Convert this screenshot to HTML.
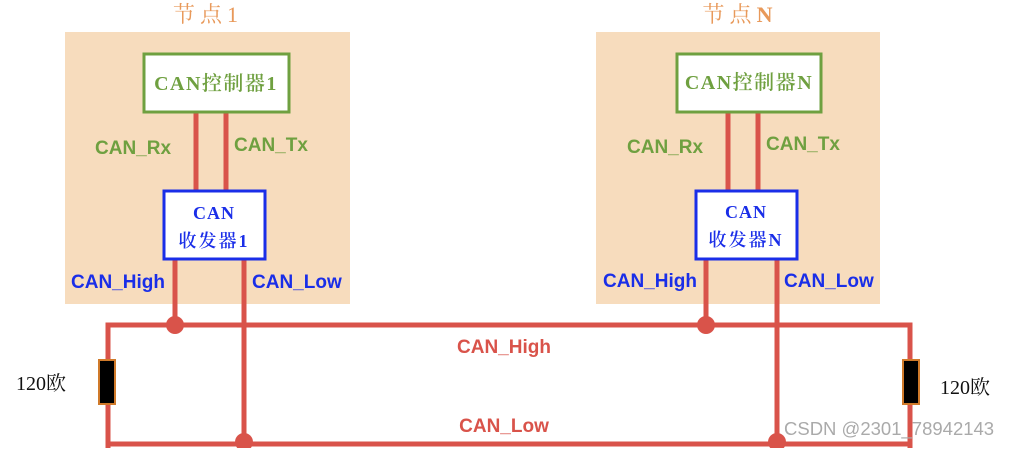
<!DOCTYPE html>
<html><head><meta charset="utf-8"><style>
body{margin:0;background:#fff;width:1012px;height:448px;overflow:hidden}
svg text{font-family:"Liberation Serif","Noto Serif CJK SC",serif}
svg .b text{font-family:"Liberation Sans",sans-serif;font-weight:bold}
svg text.w{font-family:"Liberation Sans",sans-serif}
</style></head><body>
<svg width="1012" height="448" xmlns="http://www.w3.org/2000/svg">
<rect x="65" y="32" width="285" height="272" fill="#f7dcbd"/>
<rect x="596" y="32" width="284" height="272" fill="#f7dcbd"/>
<text x="208" y="22" font-size="22" fill="#e8995a" text-anchor="middle" letter-spacing="5">节点1</text>
<text x="740" y="22" font-size="22" fill="#e8995a" text-anchor="middle" letter-spacing="5">节点<tspan font-weight="bold">N</tspan></text>
<g stroke="#d9534a" stroke-width="5" fill="none">
<line x1="196" y1="113" x2="196" y2="191"/><line x1="226" y1="113" x2="226" y2="191"/>
<line x1="728" y1="113" x2="728" y2="191"/><line x1="758" y1="113" x2="758" y2="191"/>
<line x1="175" y1="259" x2="175" y2="325"/><line x1="244" y1="259" x2="244" y2="444"/>
<line x1="706" y1="259" x2="706" y2="325"/><line x1="777" y1="259" x2="777" y2="444"/>
<polyline points="108,448 108,325 910,325 910,448"/>
<line x1="108" y1="444" x2="910" y2="444"/>
</g>
<g fill="#d9534a"><circle cx="175" cy="325" r="9"/><circle cx="706" cy="325" r="9"/><circle cx="244" cy="442" r="9"/><circle cx="777" cy="442" r="9"/></g>
<rect x="99" y="360" width="16" height="44" fill="#000" stroke="#d07a2a" stroke-width="2"/>
<rect x="903" y="360" width="16" height="44" fill="#000" stroke="#d07a2a" stroke-width="2"/>
<rect x="144" y="54" width="145" height="58" fill="#fff" stroke="#6fa040" stroke-width="3"/>
<rect x="677" y="54" width="144" height="58" fill="#fff" stroke="#6fa040" stroke-width="3"/>
<text x="216" y="90" font-size="20" fill="#6fa040" text-anchor="middle" letter-spacing="1.5" font-weight="600">CAN控制器1</text>
<text x="749" y="89" font-size="20" fill="#6fa040" text-anchor="middle" letter-spacing="1.5" font-weight="600">CAN控制器<tspan font-weight="bold">N</tspan></text>
<rect x="164" y="191" width="101" height="68" fill="#fff" stroke="#1a2ee8" stroke-width="3"/>
<rect x="696" y="191" width="101" height="68" fill="#fff" stroke="#1a2ee8" stroke-width="3"/>
<g font-size="18" fill="#1a2ee8" text-anchor="middle" font-weight="600"><text x="214" y="219" letter-spacing="1">CAN</text><text x="214" y="247" letter-spacing="2">收发器1</text>
<text x="746" y="218" letter-spacing="1">CAN</text><text x="746" y="246" letter-spacing="2">收发器<tspan font-weight="bold">N</tspan></text></g>
<g class="b" font-size="19" fill="#6fa040"><text x="95" y="154">CAN_Rx</text><text x="234" y="151">CAN_Tx</text><text x="627" y="153">CAN_Rx</text><text x="766" y="150">CAN_Tx</text></g>
<g class="b" font-size="19" fill="#1a2ee8"><text x="71" y="288">CAN_High</text><text x="252" y="288">CAN_Low</text><text x="603" y="287">CAN_High</text><text x="784" y="287">CAN_Low</text></g>
<g class="b" font-size="19" fill="#d9534a" text-anchor="middle"><text x="504" y="353">CAN_High</text><text x="504" y="432">CAN_Low</text></g>
<text x="16" y="390" font-size="20" fill="#111">120欧</text>
<text x="940" y="394" font-size="20" fill="#111">120欧</text>
<text class="w" x="784" y="435" font-size="18.5" fill="#aaa">CSDN @2301_78942143</text>
</svg>
</body></html>
